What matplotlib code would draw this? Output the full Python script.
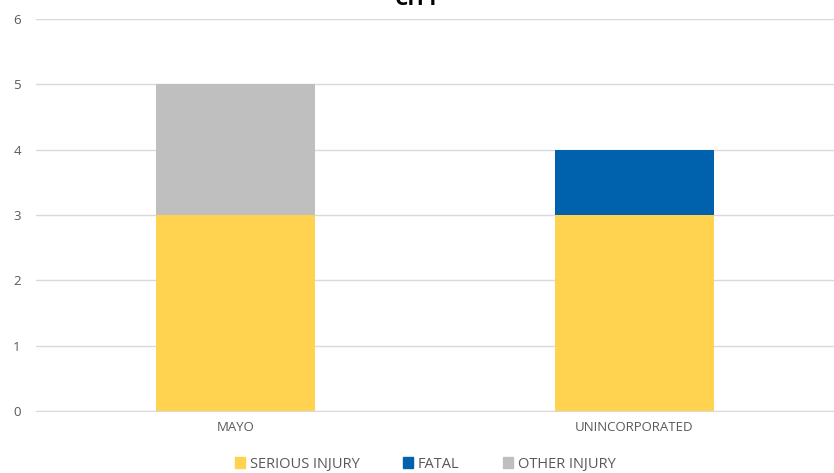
import numpy as np
import matplotlib.pyplot as plt
from matplotlib.patches import Patch

cities = ["MAYO", "UNINCORPORATED"]
serious = [3, 3]
fatal = [0, 1]
other = [2, 0]

c_serious = "#FFD34F"
c_fatal = "#0062AC"
c_other = "#BFBFBF"

plt.rcParams["font.family"] = ["Open Sans", "DejaVu Sans"]

fig = plt.figure(figsize=(8.34, 4.73), dpi=100)
ax = fig.add_axes([36/834, 1 - 411/473, 798/834, 392/473])

x = np.arange(len(cities))
s = np.array(serious)
f = np.array(fatal)
o = np.array(other)
ax.bar(x, s, 0.4, color=c_serious, zorder=2)
ax.bar(x, f, 0.4, bottom=s, color=c_fatal, zorder=2)
ax.bar(x, o, 0.4, bottom=s + f, color=c_other, zorder=2)

ax.set_xlim(-0.5, 1.5)
ax.set_ylim(0, 6)
ax.set_yticks(range(7))
ax.set_xticks(x)
ax.set_xticklabels(cities)
ax.yaxis.grid(True, color="#D9D9D9", linewidth=1, zorder=0)
for sp in ax.spines.values():
    sp.set_visible(False)
ax.spines["bottom"].set_visible(True)
ax.spines["bottom"].set_color("#D9D9D9")
ax.tick_params(length=0, labelsize=9.5, colors="#595959", pad=11)
ax.tick_params(axis="x", pad=7)

fig.text(0.5, 1 - 5/473, "CITY", ha="center", va="baseline",
         fontsize=15, fontweight="bold", color="#000000")

handles = [Patch(color=c_serious), Patch(color=c_fatal), Patch(color=c_other)]
fig.legend(handles, ["SERIOUS INJURY", "FATAL", "OTHER INJURY"], ncol=3,
           loc="center", bbox_to_anchor=(0.51, 1 - 464/473), frameon=False,
           fontsize=10.5, labelcolor="#595959", handlelength=0.7, handleheight=0.7,
           handletextpad=0.3, columnspacing=3.0)

fig.savefig("out.png", dpi=100)
